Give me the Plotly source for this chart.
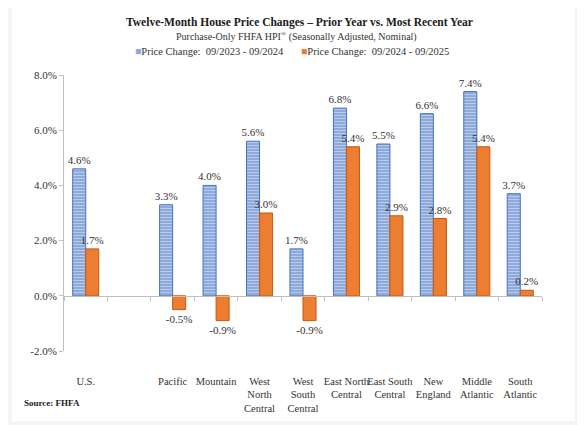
import plotly.graph_objects as go

# regions (one empty slot between U.S. and the census divisions)
regions = ["U.S.", " ", "Pacific", "Mountain", "West<br>North<br>Central",
           "West<br>South<br>Central", "East North<br>Central", "East South<br>Central",
           "New<br>England", "Middle<br>Atlantic", "South<br>Atlantic"]
prior_year = [4.6, None, 3.3, 4.0, 5.6, 1.7, 6.8, 5.5, 6.6, 7.4, 3.7]
recent_year = [1.7, None, -0.5, -0.9, 3.0, -0.9, 5.4, 2.9, 2.8, 5.4, 0.2]
y_ticks = [-2, 0, 2, 4, 6, 8]

# page body has an 8px margin, so the figure is drawn 8px in from the corner
OFF = 8
W, H = 585 - OFF, 425 - OFF
L, R, T, B = 64 - OFF, 542.5 - OFF, 75 - OFF, 351 - OFF   # plot area in figure px


def px_x(p):
    return (p - OFF - L) / (R - L)


def px_y(p):
    return (B - (p - OFF)) / (B - T)


serif = "Liberation Serif"
blue = "#8eaadb"
orange = "#ed7d31"


def labels(vals):
    return ["" if v is None else f"{v:.1f}%" for v in vals]


fig = go.Figure()
fig.add_trace(go.Bar(
    x=regions, y=prior_year, name="Price Change: 09/2023 - 09/2024",
    text=labels(prior_year), textposition="outside", cliponaxis=False,
    constraintext="none", textangle=0,
    textfont=dict(family=serif, size=11, color="#333"),
    marker=dict(color=blue, line=dict(color="#4472c4", width=1),
                pattern=dict(shape="-", fgcolor="#e4ecf8", size=3, solidity=0.35)),
))
fig.add_trace(go.Bar(
    x=regions, y=recent_year, name="Price Change: 09/2024 - 09/2025",
    text=labels(recent_year), textposition="outside", cliponaxis=False,
    constraintext="none", textangle=0,
    textfont=dict(family=serif, size=11, color="#333"),
    marker=dict(color=orange, line=dict(color="#c55a11", width=1)),
))
# helper trace so the zero axis with category ticks gets drawn
fig.add_trace(go.Scatter(x=regions, y=[None] * len(regions), xaxis="x2",
                         showlegend=False, hoverinfo="skip"))

fig.update_layout(
    width=W, height=H,
    margin=dict(l=L, r=W - R, t=T, b=H - B),
    paper_bgcolor="#f5f5f5", plot_bgcolor="white",
    barmode="group", bargap=0.4, bargroupgap=0,
    showlegend=False,
    font=dict(family=serif, color="#333"),
    xaxis=dict(categoryorder="array", categoryarray=regions, range=[-0.5, 10.5],
               showline=False, ticks="", showgrid=False, tickangle=0, automargin=False,
               tickfont=dict(family=serif, size=10.5, color="#333"),
               ticklabelstandoff=22),
    xaxis2=dict(overlaying="x", matches="x", anchor="free", position=0.2,
                showline=True, linecolor="#bfbfbf", linewidth=1,
                ticks="outside", ticklen=4, tickcolor="#bfbfbf", automargin=False,
                tickson="boundaries", showticklabels=False, showgrid=False),
    yaxis=dict(range=[-2, 8], tickvals=y_ticks, automargin=False,
               ticktext=[f"{v:.1f}%" for v in y_ticks],
               showline=True, linecolor="#bfbfbf", ticks="outside", ticklen=4,
               tickcolor="#bfbfbf", showgrid=False, zeroline=False,
               tickfont=dict(family=serif, size=11, color="#333")),
    shapes=[dict(type="rect", xref="paper", yref="paper", layer="below",
                 x0=px_x(12), x1=px_x(575), y0=px_y(421), y1=px_y(0),
                 fillcolor="white", line=dict(width=0))],
)

fig.add_annotation(text="<b>Twelve-Month House Price Changes \u2013 Prior Year vs. Most Recent Year</b>",
                   x=px_x(300), y=px_y(22), xref="paper", yref="paper", showarrow=False,
                   xanchor="center", yanchor="middle",
                   font=dict(family=serif, size=11.5, color="#1a1a1a"))
fig.add_annotation(text="Purchase-Only FHFA HPI<sup>\u00ae</sup> (Seasonally Adjusted, Nominal)",
                   x=px_x(297), y=px_y(36), xref="paper", yref="paper", showarrow=False,
                   xanchor="center", yanchor="middle",
                   font=dict(family=serif, size=10, color="#333"))
fig.add_annotation(text=f"<span style='color:{blue}'>\u25a0</span>Price Change:&nbsp; 09/2023 - 09/2024",
                   x=px_x(133), y=px_y(51), xref="paper", yref="paper", showarrow=False,
                   xanchor="left", yanchor="middle",
                   font=dict(family=serif, size=10.5, color="#333"))
fig.add_annotation(text=f"<span style='color:{orange}'>\u25a0</span>Price Change:&nbsp; 09/2024 - 09/2025",
                   x=px_x(299), y=px_y(51), xref="paper", yref="paper", showarrow=False,
                   xanchor="left", yanchor="middle",
                   font=dict(family=serif, size=10.5, color="#333"))
fig.add_annotation(text="<b>Source: FHFA</b>",
                   x=px_x(22), y=px_y(403), xref="paper", yref="paper", showarrow=False,
                   xanchor="left", yanchor="middle",
                   font=dict(family=serif, size=9, color="#1a1a1a"))

fig.write_html("out.html")
